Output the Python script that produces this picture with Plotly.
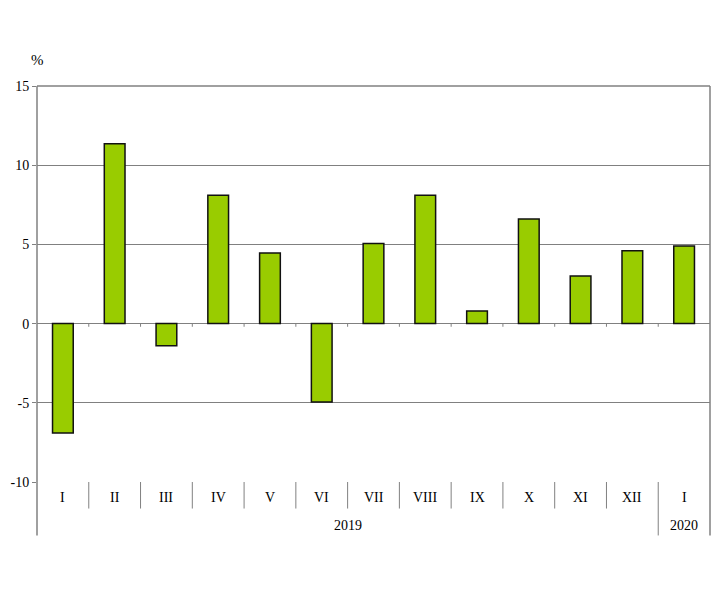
import plotly.graph_objects as go

months = ["I", "II", "III", "IV", "V", "VI", "VII", "VIII", "IX", "X", "XI", "XII", "I"]
years = ["2019"] * 12 + ["2020"]
values = [-6.9, 11.35, -1.4, 8.1, 4.45, -4.95, 5.05, 8.1, 0.8, 6.6, 3.0, 4.6, 4.9]
y_ticks = [-10, -5, 0, 5, 10, 15]

xs = list(range(len(months)))
n = len(months)
GRID = "#808080"
FONT = "Liberation Serif, Times New Roman, serif"

fig = go.Figure(go.Bar(
    x=xs, y=values, width=0.4,
    marker=dict(color="#99CC00", line=dict(color="#111111", width=1.5)),
))

shapes = []
shapes.append(dict(type="line", xref="paper", yref="paper", x0=0, x1=1, y0=1, y1=1,
                   line=dict(color=GRID, width=1.5)))
shapes.append(dict(type="line", xref="paper", yref="paper", x0=1, x1=1, y0=1, y1=-0.135,
                   line=dict(color=GRID, width=1.5)))
shapes.append(dict(type="line", xref="paper", yref="paper", x0=0, x1=0, y0=1, y1=-0.135,
                   line=dict(color=GRID, width=1.5)))
for i in range(1, n):
    bottom = -0.135 if i == 12 else -0.067
    shapes.append(dict(type="line", xref="x", yref="paper", x0=i - 0.5, x1=i - 0.5,
                       y0=0, y1=bottom, line=dict(color=GRID, width=1)))
    shapes.append(dict(type="line", xref="x", yref="y", x0=i - 0.5, x1=i - 0.5,
                       y0=0, y1=-0.2, line=dict(color=GRID, width=1)))

annotations = [
    dict(text="%", xref="paper", yref="paper", x=0, y=1.066, showarrow=False,
         font=dict(family=FONT, size=15, color="black"), xanchor="center", yanchor="middle"),
    dict(text=years[0], xref="x", yref="paper", x=(0 + 11) / 2, y=-0.11, showarrow=False,
         font=dict(family=FONT, size=14, color="black"), yanchor="middle"),
    dict(text=years[12], xref="x", yref="paper", x=12, y=-0.11, showarrow=False,
         font=dict(family=FONT, size=14, color="black"), yanchor="middle"),
]
for i, m in enumerate(months):
    annotations.append(dict(text=m, xref="x", yref="paper", x=i, y=-0.038, showarrow=False,
                            font=dict(family=FONT, size=14, color="black"), yanchor="middle"))

fig.update_layout(
    width=716, height=599, autosize=False,
    margin=dict(l=37, r=6, t=86, b=117),
    plot_bgcolor="white", paper_bgcolor="white",
    showlegend=False,
    font=dict(family=FONT, size=14, color="black"),
    shapes=shapes, annotations=annotations,
    xaxis=dict(range=[-0.5, n - 0.5], showticklabels=False, showgrid=False,
               zeroline=False, showline=False, ticks=""),
    yaxis=dict(range=[-10, 15], tickvals=y_ticks, ticktext=[str(v) for v in y_ticks],
               showgrid=True, gridcolor=GRID, gridwidth=1, zeroline=True,
               zerolinecolor=GRID, zerolinewidth=1, showline=False,
               ticks="outside", ticklen=4, tickcolor=GRID,
               tickfont=dict(family=FONT, size=14, color="black")),
)

fig.write_html(
    "out.html",
    config={"responsive": False, "displayModeBar": False},
    post_script="document.body.style.margin='0';document.body.style.overflow='hidden';",
)
